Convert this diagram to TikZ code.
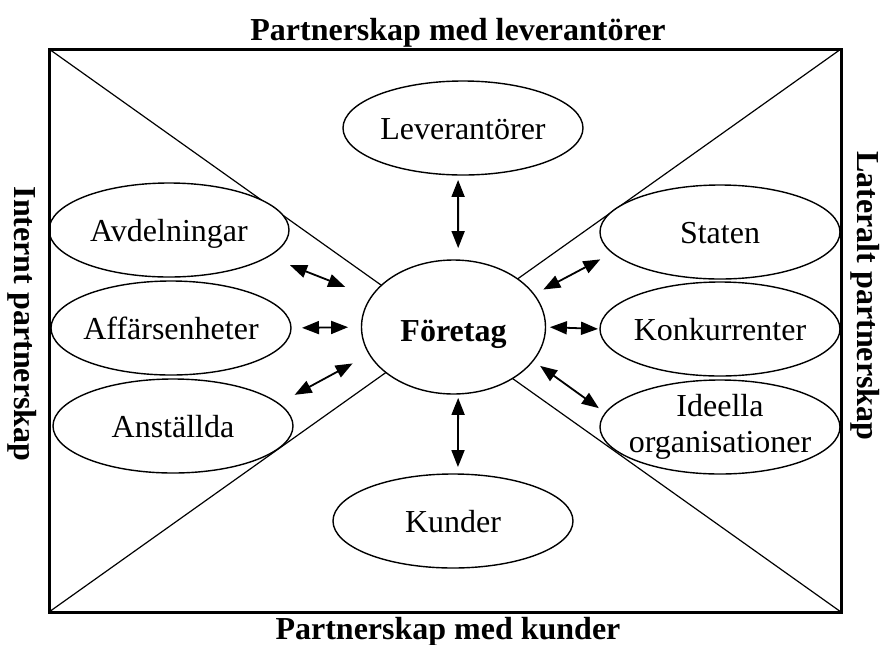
\documentclass[tikz,border=0pt]{standalone}
\usepackage{fontspec}
\setmainfont{Liberation Serif}
\usetikzlibrary{shapes.geometric,arrows.meta}

\tikzset{
  ellips/.style={ellipse,draw,fill=white,line width=0.7pt,minimum width=120pt,minimum height=47pt,
    inner xsep=-8pt,inner ysep=0pt,outer sep=0pt,align=center,font=\fontsize{16}{18}\selectfont},
  part/.style={ellips,text height=11.5pt,text depth=0pt},
  rubrik/.style={font=\fontsize{16}{18}\selectfont\bfseries,anchor=base},
  pil/.style={{Triangle[length=8.5pt,width=6.5pt]}-{Triangle[length=8.5pt,width=6.5pt]},line width=0.9pt}
}

\begin{document}
\begin{tikzpicture}[x=0.5pt,y=-0.5pt]
\useasboundingbox (0,0) rectangle (880,644);
\coordinate (nv) at (49,49);
\coordinate (nh) at (841,49);
\coordinate (sh) at (841,612);
\coordinate (sv) at (49,612);
\draw[line width=0.6pt] (nv) -- (sh) (nh) -- (sv);

\node[part] (lev) at (463,128) {Leverantörer};
\node[part] (avd) at (169,230) {Avdelningar};
\node[part] (aff) at (171,328) {Affärsenheter};
\node[part] (anst) at (173,426) {Anställda};
\node[part,minimum width=92pt,minimum height=67pt,text height=14pt] (foretag) at (453.5,327) {\bfseries Företag};
\node[part] (staten) at (720,232) {Staten};
\node[part] (konk) at (720,329) {Konkurrenter};
\node[ellips] (ideella) at (720,427) {Ideella\\organisationer};
\node[part] (kunder) at (453,521) {Kunder};

\draw[line width=1.5pt] (nv) rectangle (sh);

\draw[pil,shorten <=2.5pt,shorten >=6pt] (lev.-96) -- (foretag.86);
\draw[pil,shorten <=2pt,shorten >=3.5pt] (foretag.-86) -- (kunder.84);
\draw[pil,shorten <=11.8pt,shorten >=14pt] (avd.-15) -- (foretag.160);
\draw[pil,shorten <=5.5pt,shorten >=6.7pt] (aff.east) -- (foretag.west);
\draw[pil,shorten <=9.2pt,shorten >=9.6pt] (anst.12) -- (foretag.198);
\draw[pil,shorten <=5.3pt,shorten >=6.9pt] (foretag.22) -- (staten.191);
\draw[pil,shorten <=2.2pt,shorten >=1pt] (foretag.east) -- (konk.west);
\draw[pil,shorten <=4.4pt,shorten >=4.1pt] (foretag.-23) -- (ideella.173);

\node[rubrik] (topp) at (458,40) {Partnerskap med leverantörer};
\node[rubrik] (botten) at (448,639) {Partnerskap med kunder};
\node[rubrik,rotate=-90] (vanster) at (15,324) {Internt partnerskap};
\node[rubrik,rotate=-90] (hoger) at (857,296) {Lateralt partnerskap};
\end{tikzpicture}
\end{document}
